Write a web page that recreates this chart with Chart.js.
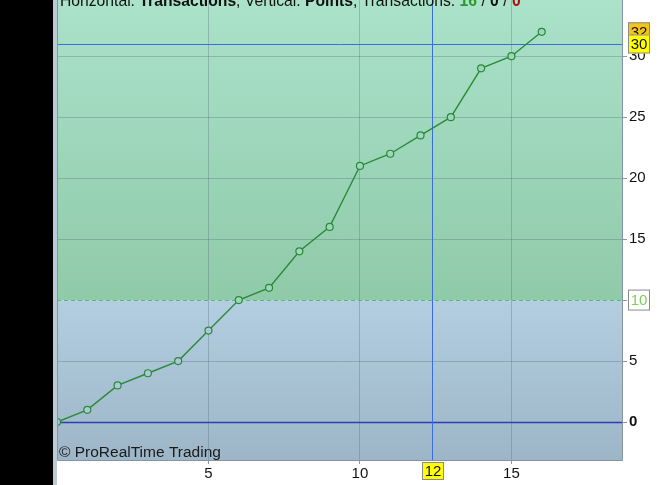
<!DOCTYPE html>
<html><head><meta charset="utf-8">
<script src="https://cdn.jsdelivr.net/npm/chart.js@4/dist/chart.umd.min.js"></script>
<style>html,body{margin:0;padding:0;background:#fff;overflow:hidden}#wrap{position:relative;width:663px;height:485px;overflow:hidden}#c{position:absolute;left:0;top:0}</style>
</head><body><div id="wrap"><canvas id="c" width="663" height="485"></canvas></div>
<script>
const transactions = [0,1,2,3,4,5,6,7,8,9,10,11,12,13,14,15,16];
const points = [0,1,3,4,5,7.5,10,11,14,16,21,22,23.5,25,29,30,32];
const yTickValues = [0,5,10,15,20,25,30,35];
const xTickValues = [5,10,15];
const levelValue = 10;
const crossX = 12.38, crossXLabel = "12";
const crossY = 31, crossYLabel = "30";
const lastLabel = "32";
const titleParts = [
  ["Horizontal: ", "normal", "#111"],
  ["Transactions", "bold", "#111"],
  [", Vertical: ", "normal", "#111"],
  ["Points", "bold", "#111"],
  [", Transactions: ", "normal", "#111"],
  ["16", "bold", "#2a9a2a"],
  [" / ", "normal", "#111"],
  ["0", "bold", "#111"],
  [" / ", "normal", "#111"],
  ["0", "bold", "#aa1111"]
];
const copyright = "\u00A9 ProRealTime Trading";
const FONT = "'Liberation Sans', Arial, sans-serif";
let OFF = 0; // canvas shift so the plot starts at the very top of the page

const extras = {
  id: 'extras',
  beforeDraw(chart) {
    const {ctx, chartArea: a, scales: {y}} = chart;
    ctx.save();
    ctx.fillStyle = '#000';
    ctx.fillRect(0, 0, 53, chart.height);
    ctx.fillStyle = '#bccad6';
    ctx.fillRect(53, 0, 4, chart.height);
    const yl = y.getPixelForValue(levelValue);
    let g = ctx.createLinearGradient(0, a.top, 0, yl);
    g.addColorStop(0, '#aae2ca'); g.addColorStop(1, '#8fcaa9');
    ctx.fillStyle = g; ctx.fillRect(a.left, 0, a.right - a.left, yl);
    g = ctx.createLinearGradient(0, yl, 0, a.bottom);
    g.addColorStop(0, '#b2cee0'); g.addColorStop(1, '#9db6c7');
    ctx.fillStyle = g; ctx.fillRect(a.left, yl, a.right - a.left, a.bottom - yl);
    ctx.restore();
  },
  beforeDatasetsDraw(chart) {
    const {ctx, chartArea: a, scales: {x, y}} = chart;
    ctx.save();
    const yl = Math.round(y.getPixelForValue(levelValue)) + 0.5;
    ctx.strokeStyle = '#5cbd6e'; ctx.lineWidth = 1; ctx.setLineDash([4, 3]);
    ctx.beginPath(); ctx.moveTo(a.left, yl); ctx.lineTo(a.right, yl); ctx.stroke();
    ctx.setLineDash([]);
    const y0 = Math.round(y.getPixelForValue(0)) + 0.5;
    ctx.strokeStyle = '#2b3fb5'; ctx.lineWidth = 1.3;
    ctx.beginPath(); ctx.moveTo(a.left, y0); ctx.lineTo(a.right, y0); ctx.stroke();
    ctx.strokeStyle = '#3a6ee0'; ctx.lineWidth = 1;
    const cx = Math.round(x.getPixelForValue(crossX)) + 0.5;
    const cy = Math.round(y.getPixelForValue(crossY)) + 0.5;
    ctx.beginPath(); ctx.moveTo(cx, 0); ctx.lineTo(cx, a.bottom); ctx.stroke();
    ctx.beginPath(); ctx.moveTo(a.left, cy); ctx.lineTo(a.right, cy); ctx.stroke();
    ctx.restore();
  },
  afterDraw(chart) {
    const {ctx, chartArea: a, scales: {x, y}} = chart;
    ctx.save();
    ctx.strokeStyle = '#8494a0'; ctx.lineWidth = 1;
    ctx.beginPath();
    ctx.moveTo(a.left + 0.5, 0); ctx.lineTo(a.left + 0.5, a.bottom + 0.5);
    ctx.lineTo(a.right + 0.5, a.bottom + 0.5); ctx.lineTo(a.right + 0.5, 0);
    ctx.stroke();
    function box(cx, cy, w, h, fill, txt, color) {
      ctx.fillStyle = fill;
      ctx.fillRect(cx, cy - h / 2, w, h);
      ctx.strokeStyle = '#8a8a8a'; ctx.lineWidth = 1;
      ctx.strokeRect(cx + 0.5, cy - h / 2 + 0.5, w - 1, h - 1);
      ctx.fillStyle = color; ctx.font = '15px ' + FONT;
      ctx.textBaseline = 'middle'; ctx.textAlign = 'center';
      ctx.fillText(txt, cx + w / 2, cy + 1);
    }
    box(628, y.getPixelForValue(levelValue), 22, 21, '#ffffff', String(levelValue), '#7fcf5a');
    box(628, y.getPixelForValue(points[points.length - 1]), 22, 19, '#f4c41c', lastLabel, '#111');
    box(628, y.getPixelForValue(crossY), 22, 19, '#ffff00', crossYLabel, '#111');
    box(Math.round(x.getPixelForValue(crossX)) - 10, a.bottom + 11, 22, 18, '#ffff00', crossXLabel, '#111');
    ctx.textAlign = 'left'; ctx.textBaseline = 'alphabetic';
    let tx = 60;
    for (const [t, w, c] of titleParts) {
      ctx.font = (w === 'bold' ? 'bold ' : '') + '15.7px ' + FONT;
      ctx.fillStyle = c; ctx.fillText(t, tx, OFF + 6);
      tx += ctx.measureText(t).width;
    }
    ctx.font = '15.5px ' + FONT; ctx.fillStyle = '#1a1a1a';
    ctx.fillText(copyright, 59, a.bottom - 3);
    ctx.restore();
  }
};

function makeConfig() {
  return {
    type: 'line',
    data: {
      datasets: [{
        data: transactions.map((t, i) => ({x: t, y: points[i]})),
        borderColor: '#2b8a38', borderWidth: 1.4,
        pointRadius: 3.5, pointBorderWidth: 1.2,
        pointBorderColor: '#2b8a38',
        pointBackgroundColor: c => (c.raw && c.raw.y >= levelValue) ? '#9dd6bb' : '#abc7d9',
        tension: 0
      }]
    },
    options: {
      responsive: false, animation: false,
      layout: {padding: {left: 57, top: 0, right: 0, bottom: 0}},
      plugins: {legend: {display: false}, tooltip: {enabled: false}},
      scales: {
        x: {
          type: 'linear', min: 0, max: 18.65,
          afterBuildTicks: s => { s.ticks = xTickValues.map(v => ({value: v})); },
          afterFit: s => { s.height = 25; s.paddingLeft = 0; s.paddingRight = 0; },
          grid: {color: 'rgba(90,110,125,0.35)', tickColor: '#8a98a2', tickLength: 4},
          border: {display: false},
          ticks: {color: '#111', font: {family: FONT, size: 15}, padding: 1, maxRotation: 0}
        },
        y: {
          position: 'right', min: -3.115, max: 34.59,
          afterBuildTicks: s => { s.ticks = yTickValues.map(v => ({value: v})); },
          afterFit: s => { s.width = 41; s.paddingTop = 0; s.paddingBottom = 0; },
          grid: {
            color: c => (c.tick && (c.tick.value === 0 || c.tick.value === levelValue)) ? 'rgba(0,0,0,0)' : 'rgba(90,110,125,0.35)',
            tickColor: '#8a98a2', tickLength: 5
          },
          border: {display: false},
          ticks: {
            color: '#111', padding: 2,
            font: c => ({family: FONT, size: 15, weight: (c.tick && c.tick.value === 0) ? 'bold' : 'normal'})
          }
        }
      }
    },
    plugins: [extras]
  };
}

const canvas = document.getElementById('c');
let chart = new Chart(canvas, makeConfig());
const t = chart.chartArea.top;
if (t > 0) {
  chart.destroy();
  OFF = t;
  canvas.width = 663; canvas.height = Math.round(485 + OFF);
  canvas.style.width = '663px'; canvas.style.height = Math.round(485 + OFF) + 'px';
  canvas.style.top = (-Math.round(OFF)) + 'px';
  OFF = Math.round(OFF);
  chart = new Chart(canvas, makeConfig());
}
</script></body></html>
